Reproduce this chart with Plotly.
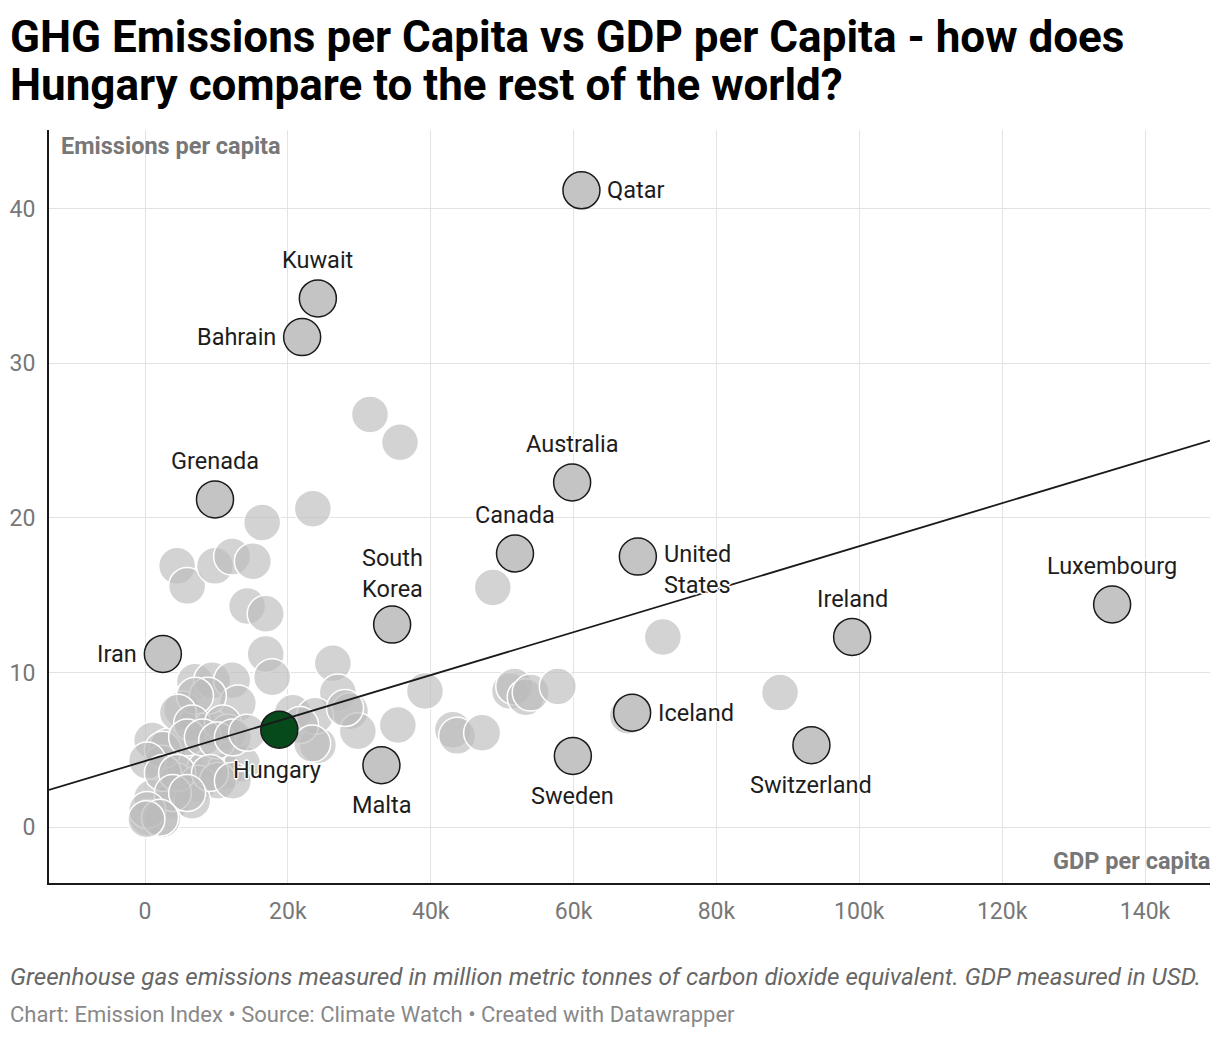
"""GHG emissions per capita vs GDP per capita, with Hungary highlighted."""

import plotly.graph_objects as go

# Labelled countries: GDP per capita (USD), emissions per capita, label side
labeled_names = [
    "Qatar", "Kuwait", "Bahrain", "Grenada", "Australia", "Canada",
    "United<br>States", "South<br>Korea", "Iran", "Luxembourg", "Ireland",
    "Iceland", "Switzerland", "Sweden", "Malta",
]
labeled_gdp = [
    61100, 24200, 22000, 9800, 59800, 51800,
    69000, 34600, 2500, 135400, 99000,
    68200, 93300, 59900, 33100,
]
labeled_emissions = [
    41.2, 34.2, 31.7, 21.2, 22.3, 17.7,
    17.5, 13.1, 11.2, 14.4, 12.3,
    7.4, 5.3, 4.6, 4.0,
]
labeled_side = [
    "right", "top", "left", "top", "top", "top",
    "right", "top", "left", "top", "top",
    "right", "bottom", "bottom", "bottom",
]

hungary_gdp = [18800]
hungary_emissions = [6.3]

# Rest of the world (unlabelled)
others_gdp = [
    31500, 35700, 23500, 16400, 4500, 5900, 9800, 12200, 15100, 14300,
    16900, 16900, 17800, 48700, 72500, 26300, 27000, 39200, 28700, 29800,
    35400, 24200, 43100, 43700, 47200, 51100, 51700, 53300, 54000, 57800,
    67600, 88900, 20700, 23800, 28000, 21700, 23400, 7000, 9400, 12200,
    13000, 5200, 7300, 9400, 11600, 1000, 3200, 2400, 5600, 8400,
    11200, 13600, 4200, 7400, 10200, 1000, 3800, 6600, 400, 2400,
    8800, 7000, 4600, 6600, 10900, 2500, 5900, 8100, 10100, 12300,
    14300, 300, 2500, 4500, 9100, 12300, 3900, 5900, 300, 2100, 200,
]
others_emissions = [
    26.7, 24.9, 20.6, 19.7, 16.9, 15.6, 16.9, 17.5, 17.2, 14.3,
    13.8, 11.2, 9.7, 15.5, 12.3, 10.6, 8.7, 8.8, 7.5, 6.2,
    6.6, 5.3, 6.3, 5.9, 6.1, 8.8, 9.1, 8.4, 8.7, 9.1,
    7.2, 8.7, 7.4, 7.2, 7.7, 6.6, 5.4, 9.4, 9.5, 9.5,
    8.0, 7.6, 6.7, 6.4, 6.1, 5.6, 5.2, 4.1, 3.9, 3.7,
    3.6, 4.1, 3.0, 2.8, 3.0, 1.9, 1.7, 1.7, 0.6, 0.5,
    8.5, 8.5, 7.4, 6.7, 6.7, 5.0, 5.8, 5.8, 5.6, 5.8,
    6.1, 4.3, 3.5, 3.5, 3.5, 3.0, 2.2, 2.2, 1.1, 0.6, 0.5,
]

# Trend line end points
trend_gdp = [-13440, 149100]
trend_emissions = [2.4, 25.0]

x_ticks = [0, 20000, 40000, 60000, 80000, 100000, 120000, 140000]
x_tick_labels = ["0", "20k", "40k", "60k", "80k", "100k", "120k", "140k"]
y_ticks = [0, 10, 20, 30, 40]

FONT = "Roboto"
HALO = ("white 1px 1px 0px, white -1px -1px 0px, white 1px -1px 0px, "
        "white -1px 1px 0px, white 0px 2px 1px, white 0px -2px 1px")

fig = go.Figure()

fig.add_trace(go.Scatter(
    x=others_gdp, y=others_emissions, mode="markers",
    marker=dict(size=37, color="rgba(188,188,188,0.66)",
                line=dict(color="white", width=1.5)),
    hoverinfo="skip", showlegend=False,
))

fig.add_trace(go.Scatter(
    x=labeled_gdp, y=labeled_emissions, mode="markers",
    marker=dict(size=37, color="#c4c4c4", line=dict(color="#1a1a1a", width=1.5)),
    hoverinfo="skip", showlegend=False,
))

fig.add_trace(go.Scatter(
    x=hungary_gdp, y=hungary_emissions, mode="markers",
    marker=dict(size=37, color="#064a1b", line=dict(color="#1a1a1a", width=1.5)),
    hoverinfo="skip", showlegend=False,
))

fig.add_trace(go.Scatter(
    x=trend_gdp, y=trend_emissions, mode="lines",
    line=dict(color="#1a1a1a", width=1.8),
    hoverinfo="skip", showlegend=False,
))

# label placement per side: xanchor, yanchor, xshift, yshift
side_style = {
    "right": ("left", "middle", 24, 0),
    "left": ("right", "middle", -24, 0),
    "top": ("center", "middle", 0, 38),
    "bottom": ("center", "middle", 0, -40),
}

annotations = []
for name, gx, ey, side in zip(labeled_names, labeled_gdp, labeled_emissions, labeled_side):
    xa, ya, xs, ys = side_style[side]
    if "<br>" in name:
        ys = -13 if side == "right" else 51
    annotations.append(dict(
        x=gx, y=ey, xref="x", yref="y", text=name, showarrow=False,
        xanchor=xa, yanchor=ya, xshift=xs, yshift=ys,
        align="left" if side == "right" else "center",
        font=dict(family=FONT, size=23.5, color="#1d1d1d", shadow=HALO),
    ))

annotations.append(dict(
    x=hungary_gdp[0], y=hungary_emissions[0], xref="x", yref="y", text="Hungary",
    showarrow=False, xanchor="center", yanchor="middle", xshift=-2, yshift=-40,
    font=dict(family=FONT, size=23.5, color="#1d1d1d", shadow=HALO),
))

# axis titles inside the plot
annotations.append(dict(
    x=0, y=1, xref="paper", yref="paper", text="<b>Emissions per capita</b>",
    showarrow=False, xanchor="left", yanchor="top", xshift=10, yshift=0,
    font=dict(family=FONT, size=23.5, color="#777777"),
))
annotations.append(dict(
    x=1, y=0, xref="paper", yref="paper", text="<b>GDP per capita</b>",
    showarrow=False, xanchor="right", yanchor="bottom", xshift=2, yshift=6,
    font=dict(family=FONT, size=23.5, color="#777777"),
))

# title, two lines
annotations.append(dict(
    x=0, y=1, xref="paper", yref="paper",
    text="<b>GHG Emissions per Capita vs GDP per Capita - how does</b>",
    showarrow=False, xanchor="left", yanchor="middle", xshift=-41, yshift=93,
    font=dict(family=FONT, size=44, color="#000000"),
))
annotations.append(dict(
    x=0, y=1, xref="paper", yref="paper",
    text="<b>Hungary compare to the rest of the world?</b>",
    showarrow=False, xanchor="left", yanchor="middle", xshift=-41, yshift=45,
    font=dict(family=FONT, size=44, color="#000000"),
))

# footer
annotations.append(dict(
    x=0, y=0, xref="paper", yref="paper",
    text="<i>Greenhouse gas emissions measured in million metric tonnes of carbon dioxide equivalent. GDP measured in USD.</i>",
    showarrow=False, xanchor="left", yanchor="middle", xshift=-41, yshift=-94,
    font=dict(family=FONT, size=24.2, color="#666666"),
))
annotations.append(dict(
    x=0, y=0, xref="paper", yref="paper",
    text="Chart: Emission Index • Source: Climate Watch • Created with Datawrapper",
    showarrow=False, xanchor="left", yanchor="middle", xshift=-41, yshift=-131,
    font=dict(family=FONT, size=22, color="#888888"),
))

# page has an 8px body margin, so the figure is sized to fit the window
fig.update_layout(
    width=1212, height=1030,
    margin=dict(l=41, r=10, t=122, b=155),
    paper_bgcolor="white", plot_bgcolor="white",
    font=dict(family=FONT),
    annotations=annotations,
    xaxis=dict(
        range=[-13440, 149100], tickvals=x_ticks, ticktext=x_tick_labels,
        showgrid=True, gridcolor="#e3e3e3", gridwidth=1, zeroline=False,
        showline=True, linecolor="#1a1a1a", linewidth=2,
        ticks="", ticklabelstandoff=6, automargin=False,
        tickfont=dict(family=FONT, size=23, color="#777777"),
    ),
    yaxis=dict(
        range=[-3.62, 45.1], tickvals=y_ticks,
        showgrid=True, gridcolor="#e3e3e3", gridwidth=1, zeroline=False,
        showline=True, linecolor="#1a1a1a", linewidth=2,
        ticks="", ticklabelstandoff=7, automargin=False,
        tickfont=dict(family=FONT, size=23, color="#777777"),
    ),
)

fig.write_html("out.html")
